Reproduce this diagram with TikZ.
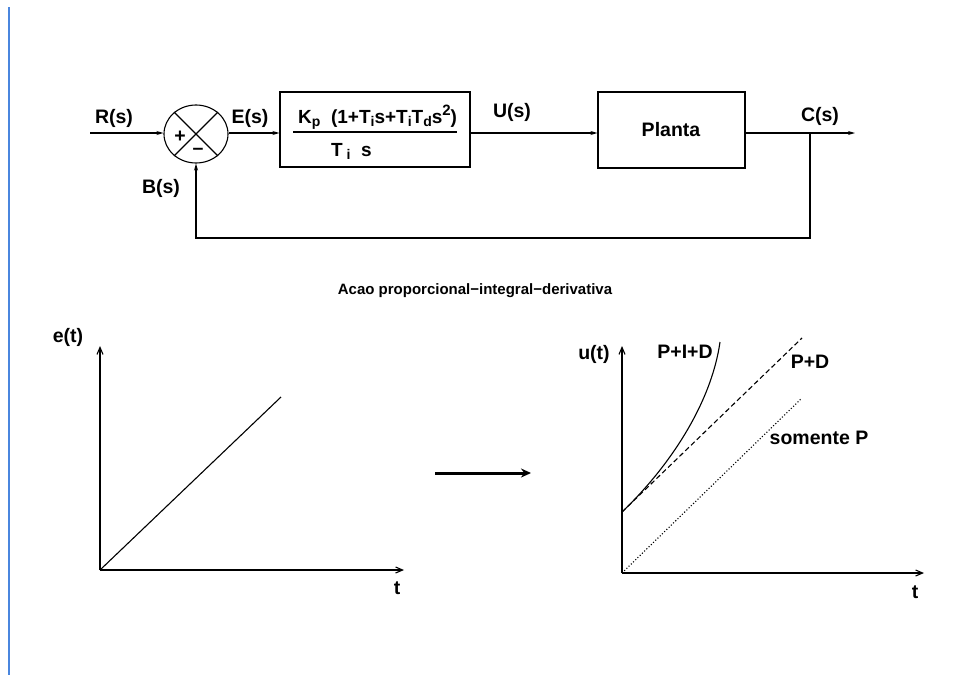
\documentclass[tikz,border=0pt]{standalone}
\usepackage{fontspec}
\setmainfont{Liberation Sans}
\usetikzlibrary{arrows.meta,shapes.geometric}
\definecolor{edgeblue}{RGB}{74,134,222}
\tikzset{
  lbl/.style={font=\fontsize{19.5}{21}\selectfont\bfseries, inner sep=0pt},
  fraclbl/.style={font=\fontsize{19}{21}\selectfont\bfseries, inner sep=0pt},
  small/.style={font=\fontsize{15}{17}\selectfont\bfseries, inner sep=0pt},
  blk/.style={draw, line width=1.1pt, rectangle, inner sep=0pt},
  sig/.style={line width=1.1pt, -{Stealth[length=7pt,width=4pt]}},
  axis/.style={line width=1.1pt, -{Straight Barb[length=7pt,width=6pt]}},
  curve/.style={line width=1.1pt}
}
\newcommand{\lowsub}[1]{\raisebox{-0.35ex}{\fontsize{14}{15}\selectfont #1}}
\newcommand{\highsup}[1]{\raisebox{0.75ex}{\fontsize{15}{16}\selectfont #1}}
\begin{document}
\begin{tikzpicture}[x=1pt,y=-1pt]
\useasboundingbox (0,0) rectangle (959,675);
% left edge line
\draw[edgeblue, line width=1.3pt] (9,7) -- (9,675);

% block diagram
\coordinate (rin) at (90,133);
\node[draw, ellipse, line width=1.1pt, minimum width=64, minimum height=58, inner sep=0pt] (sum) at (196,134) {};
\draw[line width=1.1pt] (sum.45) -- (sum.225);
\draw[line width=1.1pt] (sum.135) -- (sum.315);
\node[lbl] (plus) at (180,137) {+};
\node[lbl] (minus) at (198,151) {\textendash};

\node[blk, minimum width=190, minimum height=75] (ctrl) at (375,129.5) {};
\draw[line width=1.1pt] (293,132) -- (457,132);
\node[fraclbl, anchor=base west] (num) at (298,123) {K\lowsub{p}\ \ (1+T\lowsub{i}s+T\lowsub{i}T\lowsub{d}s\highsup{2})};
\node[fraclbl, anchor=base west] (den) at (331,156) {T\lowsub{\ i}\ \ s};

\node[blk, minimum width=147, minimum height=76] (plant) at (671.5,130) {};
\node[lbl] (plantlbl) at (671,130) {Planta};

\coordinate (cout) at (855,133);
\coordinate (tap) at (810,133);
\coordinate (fb1) at (810,238);
\coordinate (fb2) at (196,238);

\draw[sig] (rin) -- (sum.west |- rin);
\draw[sig] (sum.east |- 0,133) -- (ctrl.west |- 0,133);
\draw[sig] (ctrl.east |- 0,133) -- (plant.west |- 0,133);
\draw[sig] (plant.east |- 0,133) -- (cout);
\draw[sig] (tap) -- (fb1) -- (fb2) -- (sum.south);

\node[lbl] (R) at (114,118) {R(s)};
\node[lbl] (E) at (250,118) {E(s)};
\node[lbl] (B) at (161,188) {B(s)};
\node[lbl] (U) at (512,112) {U(s)};
\node[lbl] (C) at (820,116) {C(s)};

\node[small] (title) at (475,291) {Acao proporcional−integral−derivativa};

% left graph
\coordinate (o1) at (100,570);
\coordinate (y1) at (100,346);
\coordinate (x1) at (404,570);
\coordinate (e1) at (281,397);
\draw[axis] (o1) -- (y1);
\draw[axis] (o1) -- (x1);
\draw[curve] (o1) -- (e1);
\node[lbl] (et) at (68,337) {e(t)};
\node[lbl] (t1) at (397,588) {t};

% middle arrow
\coordinate (ma) at (435,473);
\coordinate (mb) at (531,473);
\draw[line width=3pt, -{Stealth[length=10pt,width=9pt]}] (ma) -- (mb);

% right graph
\coordinate (o2) at (622,573);
\coordinate (y2) at (622,346);
\coordinate (x2) at (924,573);
\coordinate (k) at (622,512);
\coordinate (pd) at (802,338);
\coordinate (pp) at (802,398);
\coordinate (pid) at (720,342);
\draw[axis] (o2) -- (y2);
\draw[axis] (o2) -- (x2);
\draw[curve, dotted] (o2) -- (pp);
\draw[curve, dash pattern=on 5pt off 3pt] (k) -- (pd);
\draw[curve] (k) .. controls (668,468) and (711,405) .. (pid);
\node[lbl] (ut) at (594,354) {u(t)};
\node[lbl] (t2) at (915,592) {t};
\node[lbl] (lpid) at (685,352) {P+I+D};
\node[lbl] (lpd) at (810,362) {P+D};
\node[lbl] (lp) at (819,438) {somente P};
\end{tikzpicture}
\end{document}
